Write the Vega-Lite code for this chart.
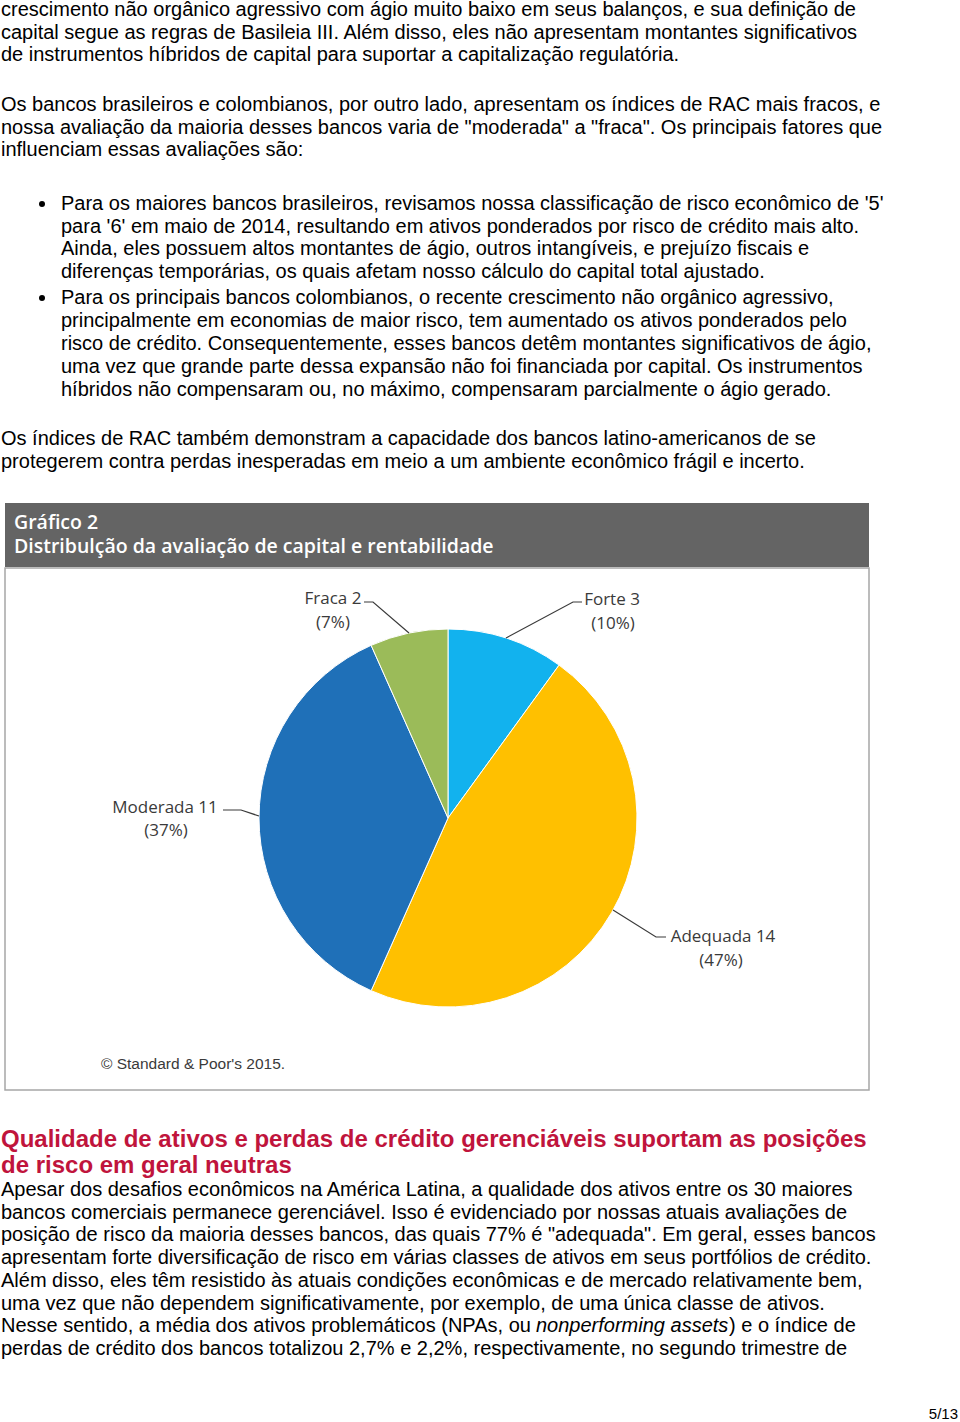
{
  "$schema": "https://vega.github.io/schema/vega-lite/v6.json",
  "padding": 0,
  "spacing": 0,
  "background": "white",
  "config": {"view": {"stroke": null}, "concat": {"spacing": 0}},
  "vconcat": [
    {
      "width": 960, "height": 93,
      "data": {"values": [
        {"line": 0, "text": "crescimento não orgânico agressivo com ágio muito baixo em seus balanços, e sua definição de"},
        {"line": 1, "text": "capital segue as regras de Basileia III. Além disso, eles não apresentam montantes significativos"},
        {"line": 2, "text": "de instrumentos híbridos de capital para suportar a capitalização regulatória."}
      ]},
      "mark": {"type": "text", "align": "left", "baseline": "middle", "font": "Liberation Sans", "fontSize": 20, "color": "#000000", "x": 1},
      "encoding": {
        "y": {"field": "line", "type": "quantitative", "scale": {"domain": [-0.354, 3.761], "reverse": true, "zero": false, "nice": false}, "axis": null},
        "text": {"field": "text"}
      }
    },
    {
      "width": 960, "height": 99,
      "data": {"values": [
        {"line": 0, "text": "Os bancos brasileiros e colombianos, por outro lado, apresentam os índices de RAC mais fracos, e"},
        {"line": 1, "text": "nossa avaliação da maioria desses bancos varia de \"moderada\" a \"fraca\". Os principais fatores que"},
        {"line": 2, "text": "influenciam essas avaliações são:"}
      ]},
      "mark": {"type": "text", "align": "left", "baseline": "middle", "font": "Liberation Sans", "fontSize": 20, "color": "#000000", "x": 1},
      "encoding": {
        "y": {"field": "line", "type": "quantitative", "scale": {"domain": [-0.443, 3.938], "reverse": true, "zero": false, "nice": false}, "axis": null},
        "text": {"field": "text"}
      }
    },
    {
      "width": 960, "height": 94,
      "data": {"values": [
        {"line": 0, "text": "Para os maiores bancos brasileiros, revisamos nossa classificação de risco econômico de '5'"},
        {"line": 1, "text": "para '6' em maio de 2014, resultando em ativos ponderados por risco de crédito mais alto."},
        {"line": 2, "text": "Ainda, eles possuem altos montantes de ágio, outros intangíveis, e prejuízo fiscais e"},
        {"line": 3, "text": "diferenças temporárias, os quais afetam nosso cálculo do capital total ajustado."}
      ]},
      "encoding": {
        "y": {"field": "line", "type": "quantitative", "scale": {"domain": [-0.443, 3.716], "reverse": true, "zero": false, "nice": false}, "axis": null}
      },
      "layer": [
        {"mark": {"type": "text", "align": "left", "baseline": "middle", "font": "Liberation Sans", "fontSize": 20, "color": "#000000", "x": 61},
         "encoding": {"text": {"field": "text"}}},
        {"transform": [{"filter": "datum.line == 0"}],
         "mark": {"type": "circle", "x": 42, "size": 36, "color": "#000000", "opacity": 1}}
      ]
    },
    {
      "width": 960, "height": 141,
      "data": {"values": [
        {"line": 0, "text": "Para os principais bancos colombianos, o recente crescimento não orgânico agressivo,"},
        {"line": 1, "text": "principalmente em economias de maior risco, tem aumentado os ativos ponderados pelo"},
        {"line": 2, "text": "risco de crédito. Consequentemente, esses bancos detêm montantes significativos de ágio,"},
        {"line": 3, "text": "uma vez que grande parte dessa expansão não foi financiada por capital. Os instrumentos"},
        {"line": 4, "text": "híbridos não compensaram ou, no máximo, compensaram parcialmente o ágio gerado."}
      ]},
      "encoding": {
        "y": {"field": "line", "type": "quantitative", "scale": {"domain": [-0.435, 5.695], "reverse": true, "zero": false, "nice": false}, "axis": null}
      },
      "layer": [
        {"mark": {"type": "text", "align": "left", "baseline": "middle", "font": "Liberation Sans", "fontSize": 20, "color": "#000000", "x": 61},
         "encoding": {"text": {"field": "text"}}},
        {"transform": [{"filter": "datum.line == 0"}],
         "mark": {"type": "circle", "x": 42, "size": 36, "color": "#000000", "opacity": 1}}
      ]
    },
    {
      "width": 960, "height": 74,
      "data": {"values": [
        {"line": 0, "text": "Os índices de RAC também demonstram a capacidade dos bancos latino-americanos de se"},
        {"line": 1, "text": "protegerem contra perdas inesperadas em meio a um ambiente econômico frágil e incerto."}
      ]},
      "mark": {"type": "text", "align": "left", "baseline": "middle", "font": "Liberation Sans", "fontSize": 20, "color": "#000000", "x": 1},
      "encoding": {
        "y": {"field": "line", "type": "quantitative", "scale": {"domain": [-0.435, 2.782], "reverse": true, "zero": false, "nice": false}, "axis": null},
        "text": {"field": "text"}
      }
    },
    {
      "hconcat": [
        {
          "width": 4, "height": 586,
          "data": {"values": [{"t": ""}]},
          "mark": {"type": "text"},
          "encoding": {"text": {"field": "t"}}
        },
        {
          "vconcat": [
            {
              "width": 864, "height": 64,
              "view": {"fill": "#646464", "stroke": null},
              "data": {"values": [
                {"line": 0, "text": "Gráfico 2"},
                {"line": 1, "text": "Distribulção da avaliação de capital e rentabilidade"}
              ]},
              "mark": {"type": "text", "align": "left", "baseline": "middle", "font": "Open Sans", "fontSize": 19.5, "fontWeight": 600, "color": "#ffffff", "x": 9},
              "encoding": {
                "y": {"field": "line", "type": "quantitative", "scale": {"domain": [-0.833, 1.833], "reverse": true, "zero": false, "nice": false}, "axis": null},
                "text": {"field": "text"}
              }
            },
            {
              "width": 864, "height": 522,
              "view": {"fill": "#ffffff", "stroke": "#a6a6a6", "strokeWidth": 1.5},
              "layer": [
                {
                  "data": {"values": [
                    {"avaliacao": "Forte", "bancos": 3, "ord": 1},
                    {"avaliacao": "Adequada", "bancos": 14, "ord": 2},
                    {"avaliacao": "Moderada", "bancos": 11, "ord": 3},
                    {"avaliacao": "Fraca", "bancos": 2, "ord": 4}
                  ]},
                  "mark": {"type": "arc", "outerRadius": 189, "stroke": "#ffffff", "strokeWidth": 1},
                  "encoding": {
                    "x": {"datum": 443, "type": "quantitative", "scale": {"domain": [0, 864], "zero": false, "nice": false}, "axis": null},
                    "y": {"datum": 250, "type": "quantitative", "scale": {"domain": [0, 522], "reverse": true, "zero": false, "nice": false}, "axis": null},
                    "theta": {"field": "bancos", "type": "quantitative"},
                    "order": {"field": "ord"},
                    "color": {"field": "avaliacao", "type": "nominal", "legend": null,
                      "scale": {"domain": ["Forte", "Adequada", "Moderada", "Fraca"], "range": ["#12b2ee", "#ffc000", "#1f70b8", "#9bbb59"]}}
                  }
                },
                {
                  "data": {"values": [
                    {"label": "Fraca", "seq": 0, "px": 359, "py": 34},
                    {"label": "Fraca", "seq": 1, "px": 368, "py": 34},
                    {"label": "Fraca", "seq": 2, "px": 404, "py": 65},
                    {"label": "Forte", "seq": 0, "px": 501, "py": 70},
                    {"label": "Forte", "seq": 1, "px": 568, "py": 34},
                    {"label": "Forte", "seq": 2, "px": 577, "py": 34},
                    {"label": "Moderada", "seq": 0, "px": 218, "py": 242},
                    {"label": "Moderada", "seq": 1, "px": 236, "py": 242},
                    {"label": "Moderada", "seq": 2, "px": 254, "py": 248},
                    {"label": "Adequada", "seq": 0, "px": 608, "py": 342},
                    {"label": "Adequada", "seq": 1, "px": 651, "py": 369},
                    {"label": "Adequada", "seq": 2, "px": 661, "py": 369}
                  ]},
                  "mark": {"type": "line", "color": "#3a3a3a", "strokeWidth": 1.2},
                  "encoding": {
                    "x": {"field": "px", "type": "quantitative"},
                    "y": {"field": "py", "type": "quantitative"},
                    "detail": {"field": "label"},
                    "order": {"field": "seq"}
                  }
                },
                {
                  "data": {"values": [
                    {"text": "Fraca 2", "tx": 328, "ty": 31},
                    {"text": "(7%)", "tx": 328, "ty": 55},
                    {"text": "Forte 3", "tx": 607, "ty": 32},
                    {"text": "(10%)", "tx": 608, "ty": 56},
                    {"text": "Moderada 11", "tx": 160, "ty": 240},
                    {"text": "(37%)", "tx": 161, "ty": 263},
                    {"text": "Adequada 14", "tx": 718, "ty": 369},
                    {"text": "(47%)", "tx": 716, "ty": 393}
                  ]},
                  "mark": {"type": "text", "align": "center", "baseline": "middle", "font": "Open Sans", "fontSize": 17, "color": "#3a3a3a"},
                  "encoding": {
                    "x": {"field": "tx", "type": "quantitative"},
                    "y": {"field": "ty", "type": "quantitative"},
                    "text": {"field": "text"}
                  }
                },
                {
                  "data": {"values": [{"text": "© Standard & Poor's 2015.", "tx": 96, "ty": 496}]},
                  "mark": {"type": "text", "align": "left", "baseline": "middle", "font": "Liberation Sans", "fontSize": 15.5, "color": "#3a3a3a"},
                  "encoding": {
                    "x": {"field": "tx", "type": "quantitative"},
                    "y": {"field": "ty", "type": "quantitative"},
                    "text": {"field": "text"}
                  }
                }
              ]
            }
          ]
        }
      ]
    },
    {
      "width": 960, "height": 87,
      "data": {"values": [
        {"line": 0, "text": "Qualidade de ativos e perdas de crédito gerenciáveis suportam as posições"},
        {"line": 1, "text": "de risco em geral neutras"}
      ]},
      "mark": {"type": "text", "align": "left", "baseline": "middle", "font": "Liberation Sans", "fontSize": 24, "fontWeight": "bold", "color": "#c0143c", "x": 1},
      "encoding": {
        "y": {"field": "line", "type": "quantitative", "scale": {"domain": [-1.885, 1.461], "reverse": true, "zero": false, "nice": false}, "axis": null},
        "text": {"field": "text"}
      }
    },
    {
      "width": 960, "height": 222,
      "data": {"values": [
        {"line": 0, "seg": "a", "text": "Apesar dos desafios econômicos na América Latina, a qualidade dos ativos entre os 30 maiores"},
        {"line": 1, "seg": "a", "text": "bancos comerciais permanece gerenciável. Isso é evidenciado por nossas atuais avaliações de"},
        {"line": 2, "seg": "a", "text": "posição de risco da maioria desses bancos, das quais 77% é \"adequada\". Em geral, esses bancos"},
        {"line": 3, "seg": "a", "text": "apresentam forte diversificação de risco em várias classes de ativos em seus portfólios de crédito."},
        {"line": 4, "seg": "a", "text": "Além disso, eles têm resistido às atuais condições econômicas e de mercado relativamente bem,"},
        {"line": 5, "seg": "a", "text": "uma vez que não dependem significativamente, por exemplo, de uma única classe de ativos."},
        {"line": 6, "seg": "a", "text": "Nesse sentido, a média dos ativos problemáticos (NPAs, ou"},
        {"line": 6, "seg": "b", "text": "nonperforming assets"},
        {"line": 6, "seg": "c", "text": ") e o índice de"},
        {"line": 7, "seg": "a", "text": "perdas de crédito dos bancos totalizou 2,7% e 2,2%, respectivamente, no segundo trimestre de"}
      ]},
      "encoding": {
        "y": {"field": "line", "type": "quantitative", "scale": {"domain": [-0.4846, 9.295], "reverse": true, "zero": false, "nice": false}, "axis": null},
        "text": {"field": "text"}
      },
      "layer": [
        {"transform": [{"filter": "datum.seg == 'a'"}],
         "mark": {"type": "text", "align": "left", "baseline": "middle", "font": "Liberation Sans", "fontSize": 20, "color": "#000000", "x": 1}},
        {"transform": [{"filter": "datum.seg == 'b'"}],
         "mark": {"type": "text", "align": "left", "baseline": "middle", "font": "Liberation Sans", "fontSize": 20, "fontStyle": "italic", "color": "#000000", "x": 536}},
        {"transform": [{"filter": "datum.seg == 'c'"}],
         "mark": {"type": "text", "align": "left", "baseline": "middle", "font": "Liberation Sans", "fontSize": 20, "color": "#000000", "x": 729}}
      ]
    },
    {
      "width": 960, "height": 22,
      "data": {"values": [{"line": 0, "text": "5/13"}]},
      "mark": {"type": "text", "align": "right", "baseline": "middle", "font": "Liberation Sans", "fontSize": 15, "color": "#000000", "x": 958},
      "encoding": {
        "y": {"field": "line", "type": "quantitative", "scale": {"domain": [-0.591, 0.409], "reverse": true, "zero": false, "nice": false}, "axis": null},
        "text": {"field": "text"}
      }
    }
  ]
}
